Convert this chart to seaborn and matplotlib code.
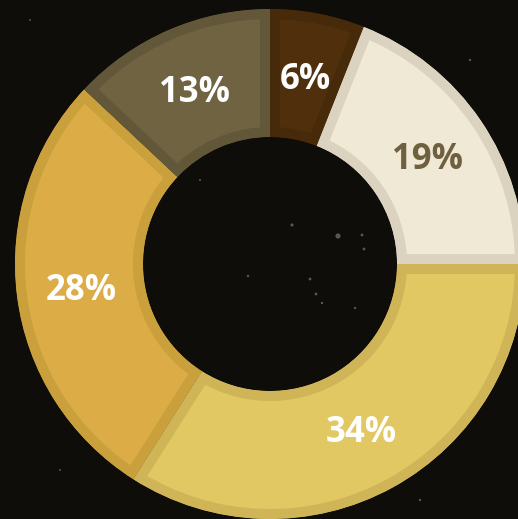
import matplotlib
matplotlib.use("Agg")
import matplotlib.pyplot as plt
import seaborn as sns
import numpy as np

labels = ["6%", "19%", "34%", "28%", "13%"]
values = [6, 19, 34, 28, 13]
fill_colors = ["#4f2f0c", "#f0e9d5", "#e2c862", "#dcad47", "#6f6341"]
edge_colors = ["#472a09", "#dbd3c0", "#cfb557", "#c9a03c", "#625739"]
label_colors = ["#ffffff", "#6e6040", "#ffffff", "#ffffff", "#ffffff"]

# faint background stars (pixel positions, decoration)
star_x = [338, 292, 362, 364, 310, 316, 322, 248, 355, 200, 470, 60, 420, 30]
star_y = [236, 225, 235, 249, 279, 294, 303, 276, 308, 180, 60, 470, 500, 20]
star_s = [14, 5, 4, 4, 4, 4, 3, 3, 3, 2, 3, 2, 3, 2]

sns.set_theme(style="white")
plt.rcParams['font.family'] = ['Open Sans', 'DejaVu Sans']

BG = "#0f0d0a"
fig = plt.figure(figsize=(5.18, 5.19), dpi=100, facecolor=BG)
ax = fig.add_axes([0, 0, 1, 1])
ax.set_facecolor(BG)

H = 519
cx, cy = 270, H - 264
R_out, R_in = 255, 127

ax.scatter(star_x, [H - y for y in star_y], s=star_s, c="#8a8a78",
           alpha=0.6, linewidths=0, zorder=0)

wedges, _ = ax.pie(values, startangle=90, counterclock=False,
                   radius=R_out, center=(cx, cy), colors=fill_colors,
                   wedgeprops=dict(width=R_out - R_in, linewidth=14.4))
ax.set_xlim(0, 518)
ax.set_ylim(0, H)
ax.set_aspect("auto")
ax.axis("off")

for w, ec in zip(wedges, edge_colors):
    w.set_edgecolor(ec)
    w.set_clip_on(True)
    w.set_clip_box(None)
    w.set_clip_path(w.get_path(), ax.transData)

r_lab = (R_out + R_in) / 2 - 1
for w, lab, col in zip(wedges, labels, label_colors):
    ang = np.deg2rad((w.theta1 + w.theta2) / 2)
    ax.text(cx + r_lab * np.cos(ang), cy + r_lab * np.sin(ang) - 3, lab,
            ha="center", va="center", color=col, fontsize=25,
            fontweight="bold")

fig.savefig("out.png", dpi=100, facecolor=BG)
